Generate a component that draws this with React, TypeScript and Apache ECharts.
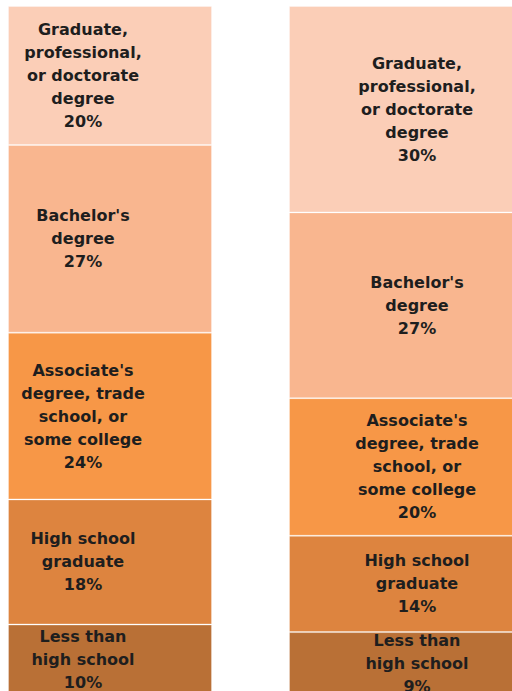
import React, { useEffect, useRef } from "react";
import * as echarts from "echarts";

// Education levels, top of the stack first
const levels = [
  "Graduate,\nprofessional,\nor doctorate\ndegree",
  "Bachelor's\ndegree",
  "Associate's\ndegree, trade\nschool, or\nsome college",
  "High school\ngraduate",
  "Less than\nhigh school",
];
const leftValues = [20, 27, 24, 18, 10];
const rightValues = [30, 27, 20, 14, 9];
const colors = ["#FBCEB7", "#F9B68F", "#F79747", "#DD843F", "#B97036"];

export default function App() {
  const ref = useRef<HTMLDivElement>(null);
  useEffect(() => {
    document.body.style.margin = "0";
    const chart = echarts.init(ref.current!, null, { renderer: "svg" });
    const sum = (a: number[]) => a.reduce((s, v) => s + v, 0);
    const bars = [
      { values: leftValues, offset: -27 },
      { values: rightValues, offset: 0 },
    ];
    const series: any[] = [];
    bars.forEach((b, bi) => {
      // bottom of stack first
      for (let i = levels.length - 1; i >= 0; i--) {
        series.push({
          type: "bar",
          name: levels[i],
          xAxisIndex: bi,
          yAxisIndex: bi,
          stack: "s" + bi,
          barWidth: "100%",
          data: [b.values[i]],
          itemStyle: {
            color: colors[i],
            borderColor: "rgba(255,255,255,0.3)",
            borderWidth: 1,
          },
          label: {
            show: true,
            position: "inside",
            offset: [b.offset, 0],
            formatter: () => levels[i] + "\n" + b.values[i] + "%",
            fontFamily: "DejaVu Sans",
            fontWeight: "bold",
            fontSize: 16,
            lineHeight: 23,
            color: "#1e1e1e",
            align: "center",
          },
        });
      }
    });
    chart.setOption({
      animation: false,
      grid: [
        { left: 8, top: 6, width: 204, height: 688, outerBoundsMode: "none", containLabel: false },
        { left: 289, top: 6, width: 256, height: 688, outerBoundsMode: "none", containLabel: false },
      ],
      xAxis: [0, 1].map((g) => ({
        type: "category",
        gridIndex: g,
        data: [""],
        show: false,
      })),
      yAxis: [leftValues, rightValues].map((v, g) => ({
        type: "value",
        gridIndex: g,
        min: 0,
        max: sum(v),
        show: false,
      })),
      series,
    });
    return () => chart.dispose();
  }, []);
  return <div ref={ref} style={{ width: 512, height: 691 }} />;
}
